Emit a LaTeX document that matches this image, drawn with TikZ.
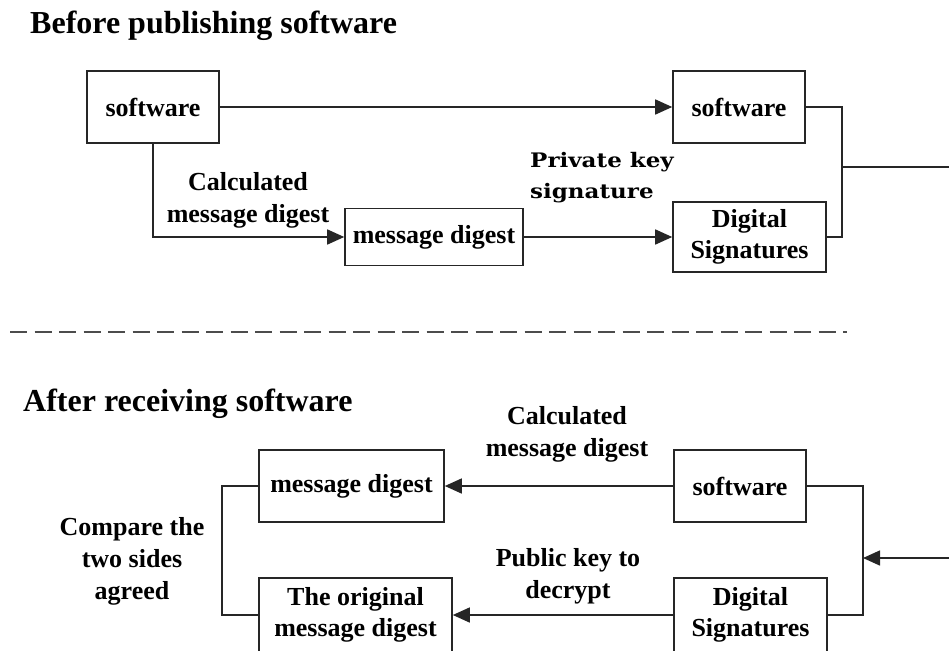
\documentclass[tikz,border=0pt]{standalone}
\usepackage{fontspec}
\setmainfont{Liberation Serif}
\newfontfamily\pkfont{DejaVu Serif}[FakeStretch=1.15]
\usetikzlibrary{arrows.meta}
\begin{document}
\begin{tikzpicture}[x=1pt,y=-1pt,
  box/.style={draw=black!85,line width=1.6pt,inner sep=0pt,align=center,
    font=\bfseries\fontsize{26}{31}\selectfont},
  lbl/.style={inner sep=0pt,align=center,font=\bfseries\fontsize{26}{32}\selectfont},
  ttl/.style={inner sep=0pt,anchor=base west,font=\bfseries\fontsize{32}{36}\selectfont},
  conn/.style={draw=black!85,line width=1.6pt},
  arr/.style={conn,-{Triangle[length=17pt,width=15pt]}}]
\useasboundingbox (0,0) rectangle (949,650);
\clip (0,0) rectangle (949,650);
% titles
\node[ttl] (t1) at (30,34) {Before publishing software};
\node[ttl] (t2) at (23,411) {After receiving software};
% top boxes
\node[box,minimum width=132pt,minimum height=72pt] (sw1) at (153,107) {software};
\node[box,minimum width=132pt,minimum height=72pt] (sw2) at (739,107) {software};
\node[box,minimum width=178pt,minimum height=57pt] (md1) at (434,237) {message digest};
\node[box,minimum width=153pt,minimum height=70pt] (ds1) at (749.5,237) {Digital\\Signatures};
% bottom boxes
\node[box,minimum width=185pt,minimum height=72pt] (md2) at (351.5,486) {message digest};
\node[box,minimum width=193pt,minimum height=74pt] (omd) at (355.5,615) {The original\\message digest};
\node[box,minimum width=132pt,minimum height=72pt] (sw3) at (740,486) {software};
\node[box,minimum width=153pt,minimum height=74pt] (ds2) at (750.5,615) {Digital\\Signatures};
% labels
\node[lbl] (l1) at (248,200) {Calculated\\message digest};
\node[inner sep=0pt,align=left,anchor=west,font=\pkfont\bfseries\fontsize{20}{31}\selectfont] (l2) at (530,178) {Private key\\signature};
\node[lbl] (l3) at (132,561) {Compare the\\two sides\\agreed};
\node[lbl] (l4) at (567,434) {Calculated\\message digest};
\node[lbl] (l5) at (568,576) {Public key to\\decrypt};
% coordinates
\coordinate (j1) at (842,167);
\coordinate (e1) at (949,167);
\coordinate (j2) at (863,558);
\coordinate (e2) at (949,558);
\coordinate (d1) at (10,332);
\coordinate (d2) at (847,332);
% top connectors
\draw[arr] (sw1.east) -- (sw2.west);
\draw[arr] (sw1.south) |- (md1.west);
\draw[arr] (md1.east) -- (ds1.west);
\draw[conn] (sw2.east) -| (j1) |- (ds1.east);
\draw[conn] (j1) -- (e1);
% divider
\draw[black!70,line width=2pt,dash pattern=on 17pt off 7.5pt] (d1) -- (d2);
% bottom connectors
\draw[arr] (sw3.west) -- (md2.east);
\draw[arr] (ds2.west) -- (omd.east);
\draw[conn] (md2.west) -- ++(-36,0) |- (omd.west);
\draw[conn] (sw3.east) -| (j2) |- (ds2.east);
\draw[arr] (e2) -- (j2);
\end{tikzpicture}
\end{document}
